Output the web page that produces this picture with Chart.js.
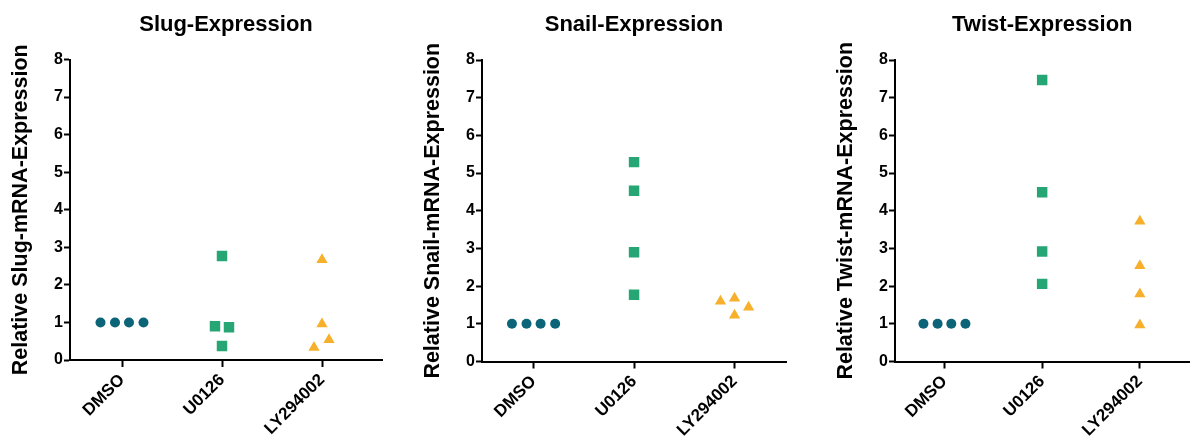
<!DOCTYPE html>
<html>
<head>
<meta charset="utf-8">
<title>EMT marker expression</title>
<script src="https://cdn.jsdelivr.net/npm/chart.js@4.4.1/dist/chart.umd.min.js"></script>
<style>
  html, body { margin: 0; padding: 0; background: #ffffff; }
  body { width: 1197px; height: 437px; position: relative; overflow: hidden; }
  canvas { position: absolute; top: 0; }
</style>
</head>
<body>
<canvas id="slug" width="400" height="437" style="left:0px"></canvas>
<canvas id="snail" width="388" height="437" style="left:412px"></canvas>
<canvas id="twist" width="372" height="437" style="left:825px"></canvas>
<script>
// Treatment groups on the x axis
const groups = ['DMSO', 'U0126', 'LY294002'];
const yTicks = [0, 1, 2, 3, 4, 5, 6, 7, 8];

// Relative mRNA expression per replicate (normalised to DMSO = 1)
const slugDMSO = [1.0, 1.0, 1.0, 1.0];
const slugU0126 = [2.77, 0.90, 0.87, 0.37];
const slugLY = [2.67, 0.96, 0.54, 0.33];

const snailDMSO = [1.0, 1.0, 1.0, 1.0];
const snailU0126 = [5.29, 4.53, 2.90, 1.77];
const snailLY = [1.60, 1.68, 1.23, 1.44];

const twistDMSO = [1.0, 1.0, 1.0, 1.0];
const twistU0126 = [7.47, 4.49, 2.92, 2.06];
const twistLY = [3.72, 2.54, 1.79, 0.97];

// Horizontal scatter of replicates within a column (in group units)
const dmsoSpread = [-0.215, -0.07, 0.07, 0.215];
const slugU0126Spread = [0, -0.07, 0.07, 0];
const slugLYSpread = [0, 0, 0.07, -0.08];
const snailU0126Spread = [0, 0, 0, 0];
const snailLYSpread = [-0.14, 0, 0, 0.14];
const twistU0126Spread = [0, 0, 0, 0];
const twistLYSpread = [0, 0, 0, 0];

const COLORS = { DMSO: '#0b6477', U0126: '#25a674', LY294002: '#f6b02b' };
const FONT = "'Liberation Sans', Arial, sans-serif";

function toPoints(groupIndex, values, spread) {
  return values.map((v, i) => ({ x: groupIndex + spread[i], y: v }));
}

function panel(id, cfg) {
  const datasets = [
    { label: 'DMSO', data: toPoints(0, cfg.dmso, dmsoSpread), pointStyle: 'circle', pointRadius: 5,
      backgroundColor: COLORS.DMSO, borderColor: COLORS.DMSO, borderWidth: 0 },
    { label: 'U0126', data: toPoints(1, cfg.u0126, cfg.u0126Spread), pointStyle: 'rect', pointRadius: 7.4,
      backgroundColor: COLORS.U0126, borderColor: COLORS.U0126, borderWidth: 0 },
    { label: 'LY294002', data: toPoints(2, cfg.ly, cfg.lySpread), pointStyle: 'triangle', pointRadius: 6.5,
      backgroundColor: COLORS.LY294002, borderColor: COLORS.LY294002, borderWidth: 0 }
  ];
  datasets.forEach(d => { d.pointHoverRadius = d.pointRadius; d.showLine = false; });

  return new Chart(document.getElementById(id), {
    type: 'scatter',
    data: { datasets },
    options: {
      responsive: false,
      animation: false,
      events: [],
      layout: { padding: { left: 0, right: cfg.padRight, top: 0, bottom: 0 } },
      plugins: {
        legend: { display: false },
        tooltip: { enabled: false },
        title: {
          display: true,
          fullSize: false,
          text: cfg.title,
          color: '#000000',
          font: { family: FONT, size: 22, weight: 'bold', lineHeight: 1.2 },
          padding: { top: 11.6, bottom: cfg.plotTop - 11.6 - 26.4 }
        }
      },
      scales: {
        x: {
          type: 'linear',
          min: cfg.xMin,
          max: cfg.xMax,
          afterBuildTicks: (scale) => { scale.ticks = groups.map((g, i) => ({ value: i })); },
          afterFit: (scale) => { scale.height = 437 - cfg.plotBottom; },
          ticks: {
            autoSkip: false,
            minRotation: 45,
            maxRotation: 45,
            padding: 3,
            color: '#000000',
            font: { family: FONT, size: 17, weight: 'bold' },
            callback: (v) => groups[v]
          },
          grid: { drawOnChartArea: false, drawTicks: true, tickLength: 7, tickWidth: 2, tickColor: '#000000' },
          border: { display: true, color: '#000000', width: 2 }
        },
        y: {
          min: 0,
          max: 8,
          afterBuildTicks: (scale) => { scale.ticks = yTicks.map(v => ({ value: v })); },
          afterFit: (scale) => { scale.width = 70; },
          ticks: {
            padding: 1,
            color: '#000000',
            font: { family: FONT, size: 16, weight: 'bold' }
          },
          grid: { drawOnChartArea: false, drawTicks: true, tickLength: 6, tickWidth: 2, tickColor: '#000000' },
          border: { display: true, color: '#000000', width: 2 },
          title: {
            display: true,
            text: cfg.yTitle,
            color: '#000000',
            font: { family: FONT, size: 21.5, weight: 'bold', lineHeight: 1.2 },
            padding: { top: 8.1, bottom: 0 }
          }
        }
      }
    }
  });
}

panel('slug', {
  title: 'Slug-Expression', yTitle: 'Relative Slug-mRNA-Expression',
  dmso: slugDMSO, u0126: slugU0126, ly: slugLY,
  u0126Spread: slugU0126Spread, lySpread: slugLYSpread,
  xMin: -0.52, xMax: 2.60, padRight: 18, plotTop: 59.5, plotBottom: 360
});

panel('snail', {
  title: 'Snail-Expression', yTitle: 'Relative Snail-mRNA-Expression',
  dmso: snailDMSO, u0126: snailU0126, ly: snailLY,
  u0126Spread: snailU0126Spread, lySpread: snailLYSpread,
  xMin: -0.513, xMax: 2.512, padRight: 14, plotTop: 60, plotBottom: 361.5
});

panel('twist', {
  title: 'Twist-Expression', yTitle: 'Relative Twist-mRNA-Expression',
  dmso: twistDMSO, u0126: twistU0126, ly: twistLY,
  u0126Spread: twistU0126Spread, lySpread: twistLYSpread,
  xMin: -0.506, xMax: 2.509, padRight: 0, plotTop: 60, plotBottom: 361.5
});
</script>
</body>
</html>
